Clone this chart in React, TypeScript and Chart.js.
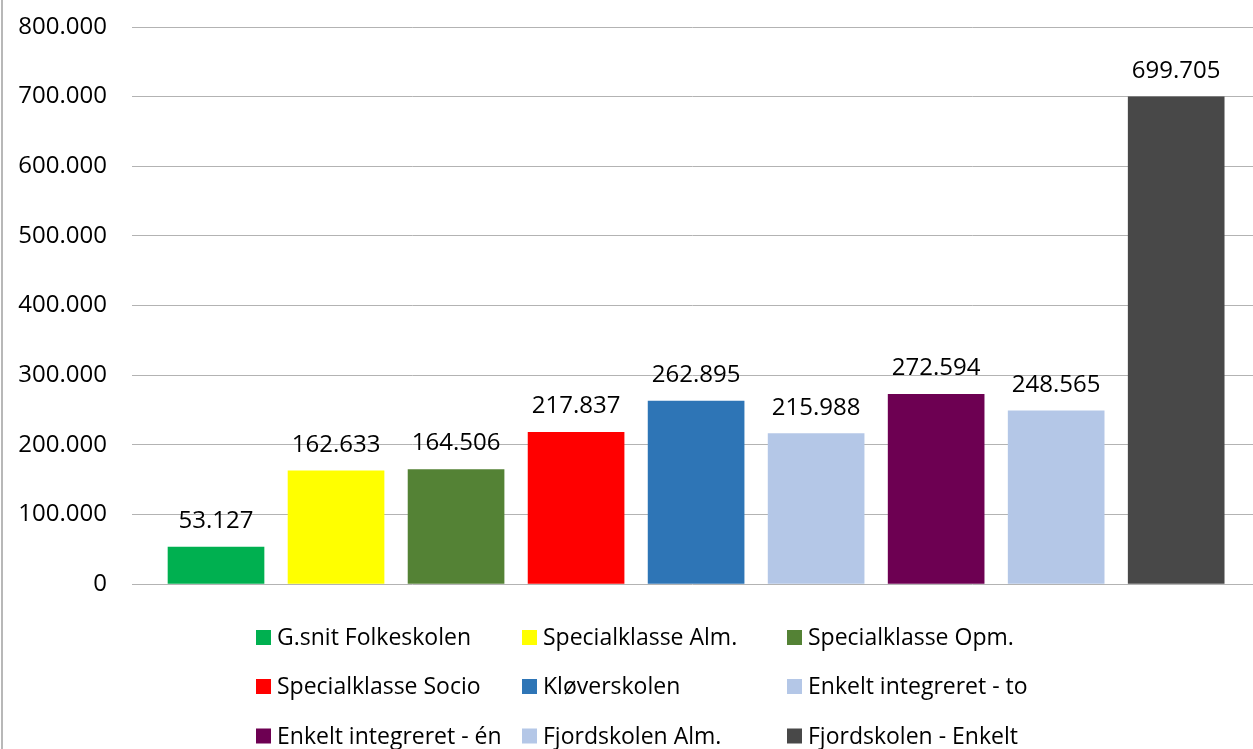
import React, { useEffect, useRef } from "react";
import { Chart, registerables } from "chart.js";

Chart.register(...registerables);

const categories = [
  "G.snit Folkeskolen",
  "Specialklasse Alm.",
  "Specialklasse Opm.",
  "Specialklasse Socio",
  "Kløverskolen",
  "Enkelt integreret - to",
  "Enkelt integreret - én",
  "Fjordskolen Alm.",
  "Fjordskolen - Enkelt",
];
const values = [53127, 162633, 164506, 217837, 262895, 215988, 272594, 248565, 699705];
const colors = [
  "#00b050",
  "#ffff00",
  "#548235",
  "#ff0000",
  "#2e75b6",
  "#b4c7e7",
  "#6d0052",
  "#b4c7e7",
  "#484848",
];
const yTicks = [0, 100000, 200000, 300000, 400000, 500000, 600000, 700000, 800000];

const FONT = "'Open Sans', sans-serif";
const FS = 24;
const LFS = 23;

function fmt(v: number): string {
  const s = Math.round(v).toString();
  return s.replace(/\B(?=(\d{3})+(?!\d))/g, ".");
}

const customPlugin = {
  id: "custom",
  afterDatasetsDraw(chart: any) {
    const ctx = chart.ctx;
    const meta = chart.getDatasetMeta(0);
    ctx.save();
    ctx.font = `${FS}px ${FONT}`;
    ctx.fillStyle = "#000";
    ctx.textAlign = "center";
    ctx.textBaseline = "alphabetic";
    meta.data.forEach((bar: any, i: number) => {
      ctx.fillText(fmt(values[i]), bar.x, bar.y - 19);
    });
    ctx.restore();
  },
  afterDraw(chart: any) {
    const ctx = chart.ctx;
    ctx.save();
    // frame left edge
    ctx.fillStyle = "#b8b8b8";
    ctx.fillRect(1, 0, 2, chart.height);
    // legend grid
    const colX = [256, 522, 787];
    const rowY = [637.5, 686.5, 736];
    ctx.font = `${LFS}px ${FONT}`;
    ctx.textBaseline = "middle";
    ctx.textAlign = "left";
    categories.forEach((c, i) => {
      const x = colX[i % 3];
      const y = rowY[Math.floor(i / 3)];
      ctx.fillStyle = colors[i];
      ctx.fillRect(x, y - 7.5, 15, 15);
      ctx.fillStyle = "#000";
      ctx.fillText(c, x + 21, y + 1);
    });
    ctx.restore();
  },
};

export default function App() {
  const ref = useRef<HTMLCanvasElement | null>(null);
  useEffect(() => {
    if (!ref.current) return;
    const chart = new Chart(ref.current, {
      type: "bar",
      data: {
        labels: categories,
        datasets: [
          {
            label: "Værdi",
            data: values.map((v, i) => ({ x: i, y: v })) as any,
            backgroundColor: colors,
            borderWidth: 0,
            barThickness: 96,
          },
        ],
      },
      options: {
        responsive: false,
        animation: false,
        devicePixelRatio: 1,
        layout: { padding: { top: 27, bottom: 165, left: 0, right: 0 } },
        plugins: {
          legend: { display: false },
          tooltip: { enabled: false },
        },
        scales: {
          x: {
            type: "linear",
            display: false,
            offset: false,
            grid: { offset: false },
            min: -0.7,
            max: 8.64,
            ticks: { stepSize: 1 },
          },
          y: {
            min: 0,
            max: 800000,
            afterBuildTicks: (scale: any) => {
              scale.ticks = yTicks.map((v) => ({ value: v }));
            },
            afterFit: (scale: any) => {
              scale.width = 132;
              scale.paddingTop = 0;
              scale.paddingBottom = 0;
            },
            border: { display: false },
            grid: { color: "#b3b3b3", lineWidth: 1, drawTicks: false },
            ticks: {
              padding: 25,
              color: "#000",
              font: { family: FONT, size: FS },
              callback: (v: any) => fmt(Number(v)),
            },
          },
        },
      },
      plugins: [customPlugin],
    });
    return () => chart.destroy();
  }, []);
  return (
    <div style={{ position: "fixed", left: 0, top: 0, width: 1253, height: 749, background: "#fff" }}>
      <canvas ref={ref} width={1253} height={749} style={{ display: "block" }} />
    </div>
  );
}
